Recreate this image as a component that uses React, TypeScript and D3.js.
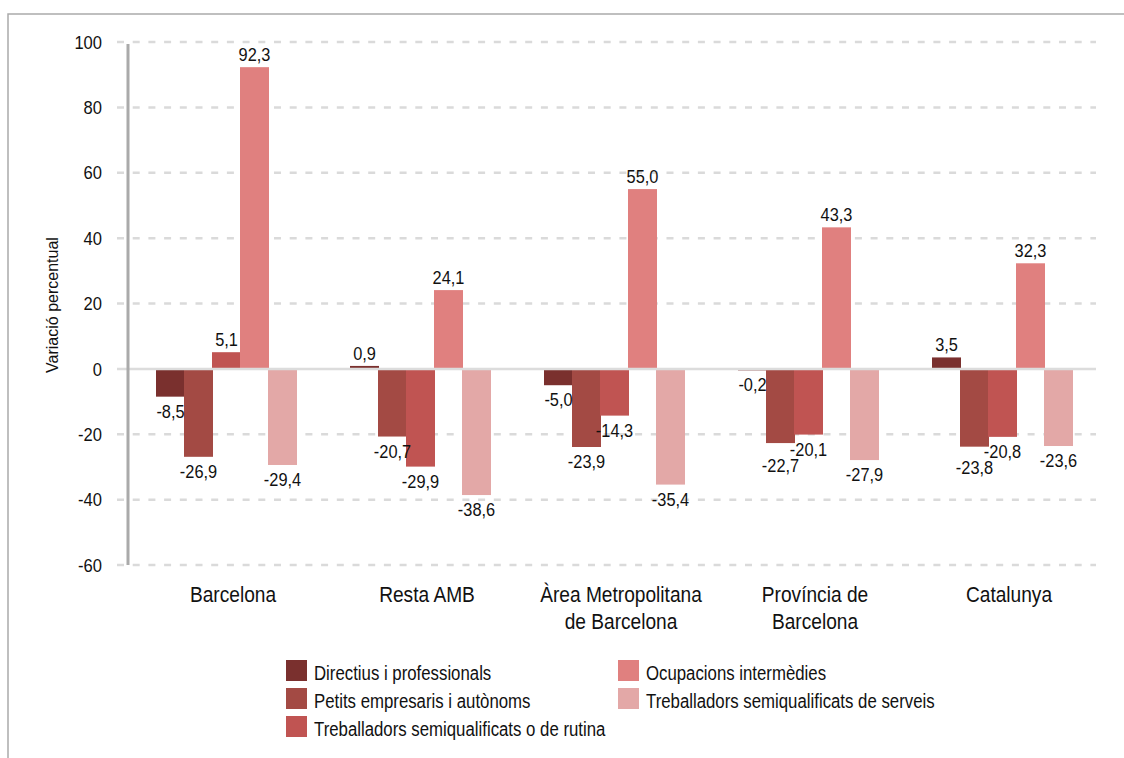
import * as d3 from 'd3'

const categories = [
  ['Barcelona'],
  ['Resta AMB'],
  ['Àrea Metropolitana', 'de Barcelona'],
  ['Província de', 'Barcelona'],
  ['Catalunya'],
]
const series = [
  'Directius i professionals',
  'Petits empresaris i autònoms',
  'Treballadors semiqualificats o de rutina',
  'Ocupacions intermèdies',
  'Treballadors semiqualificats de serveis',
]
const colors = ['#7a302e', '#a34a44', '#c05452', '#e0807f', '#e3a8a7']

// one array per category, same order as series
const barcelona = [-8.5, -26.9, 5.1, 92.3, -29.4]
const restaAmb = [0.9, -20.7, -29.9, 24.1, -38.6]
const areaMetro = [-5.0, -23.9, -14.3, 55.0, -35.4]
const provincia = [-0.2, -22.7, -20.1, 43.3, -27.9]
const catalunya = [3.5, -23.8, -20.8, 32.3, -23.6]
const values = [barcelona, restaAmb, areaMetro, provincia, catalunya]

const yTicks = [-60, -40, -20, 0, 20, 40, 60, 80, 100]

const font = '"Liberation Sans", Arial, sans-serif'

// narrow text: Liberation Sans squeezed horizontally, like a condensed face
function T({ x, y, size, sx, anchor = 'start', children }:
  { x: number, y: number, size: number, sx: number, anchor?: string, children: any }) {
  return (
    <text transform={`translate(${x},${y}) scale(${sx},1)`} textAnchor={anchor}
      fontSize={size} fill="#111">{children}</text>
  )
}

export default function App() {
  const width = 1124
  const height = 758

  const y = d3.scaleLinear().domain([-60, 100]).range([565, 42])
  const x = d3.scaleBand<number>()
    .domain(d3.range(categories.length))
    .range([129, 1099])
  const xs = d3.scaleBand<number>()
    .domain(d3.range(series.length))
    .range([-70, 70])
  const barW = 29

  const fmt = (v: number) => v.toFixed(1).replace('.', ',')

  // label baselines, pushing the lower of two close neighbouring negative labels down
  const labelY = values.map(vals => {
    const ys = vals.map(v => (v >= 0 ? y(v) - 6 : y(v) + 21))
    for (let i = 1; i < vals.length; i++) {
      if (vals[i] < 0 && vals[i - 1] < 0 && Math.abs(ys[i] - ys[i - 1]) < 16) {
        if (ys[i] >= ys[i - 1]) ys[i] = ys[i - 1] + 16
        else ys[i - 1] = ys[i] + 16
      }
    }
    return ys
  })

  return (
    <svg width={width} height={height}
      style={{ position: 'absolute', left: 0, top: 0, display: 'block', fontFamily: font }}>
      <rect x={8} y={14} width={1130} height={760} fill="white" stroke="#aaaaaa" strokeWidth={1.5} />

      {yTicks.map(t => (
        <g key={t}>
          {t !== 0 && (
            <line x1={117} x2={1096} y1={y(t)} y2={y(t)}
              stroke="#dadada" strokeWidth={2.5} strokeDasharray="7,8.7" />
          )}
          <T x={102} y={y(t) + 6.7} size={18.6} sx={0.89} anchor="end">{t}</T>
        </g>
      ))}

      <text transform={`translate(58,305) rotate(-90)`} textAnchor="middle" fontSize={16} fill="#111">
        Variació percentual
      </text>

      {values.map((vals, ci) => {
        const cx = (x(ci) as number) + x.bandwidth() / 2
        return (
          <g key={ci}>
            {vals.map((v, si) => {
              const bx = cx + (xs(si) as number)
              const top = y(Math.max(0, v))
              const h = Math.abs(y(v) - y(0))
              return (
                <rect key={si} x={bx} y={top} width={barW} height={Math.max(h, 1.5)} fill={colors[si]} />
              )
            })}
          </g>
        )
      })}

      <line x1={117} x2={1096} y1={y(0)} y2={y(0)} stroke="#dcdcdc" strokeWidth={2.5} />
      <line x1={128} x2={128} y1={44} y2={565} stroke="#aaaaaa" strokeWidth={3} />

      {values.map((vals, ci) => {
        const cx = (x(ci) as number) + x.bandwidth() / 2
        return (
          <g key={ci}>
            {vals.map((v, si) => {
              const lx = cx + (xs(si) as number) + barW / 2
              return (
                <T key={si} x={lx} y={labelY[ci][si]} size={18.6} sx={0.88} anchor="middle">{fmt(v)}</T>
              )
            })}
          </g>
        )
      })}

      {categories.map((lines, ci) => {
        const cx = (x(ci) as number) + x.bandwidth() / 2 + 7
        return (
          <g key={ci}>
            {lines.map((l, li) => (
              <T key={li} x={cx} y={602 + li * 27} size={22} sx={0.87} anchor="middle">{l}</T>
            ))}
          </g>
        )
      })}

      {series.map((s, si) => {
        const col = si < 3 ? 0 : 1
        const row = si < 3 ? si : si - 3
        const lx = col === 0 ? 286 : 618
        const ly = 660 + row * 28
        return (
          <g key={si}>
            <rect x={lx} y={ly} width={21} height={21} fill={colors[si]} />
            <T x={lx + 28} y={ly + 20} size={21} sx={0.8}>{s}</T>
          </g>
        )
      })}
    </svg>
  )
}
